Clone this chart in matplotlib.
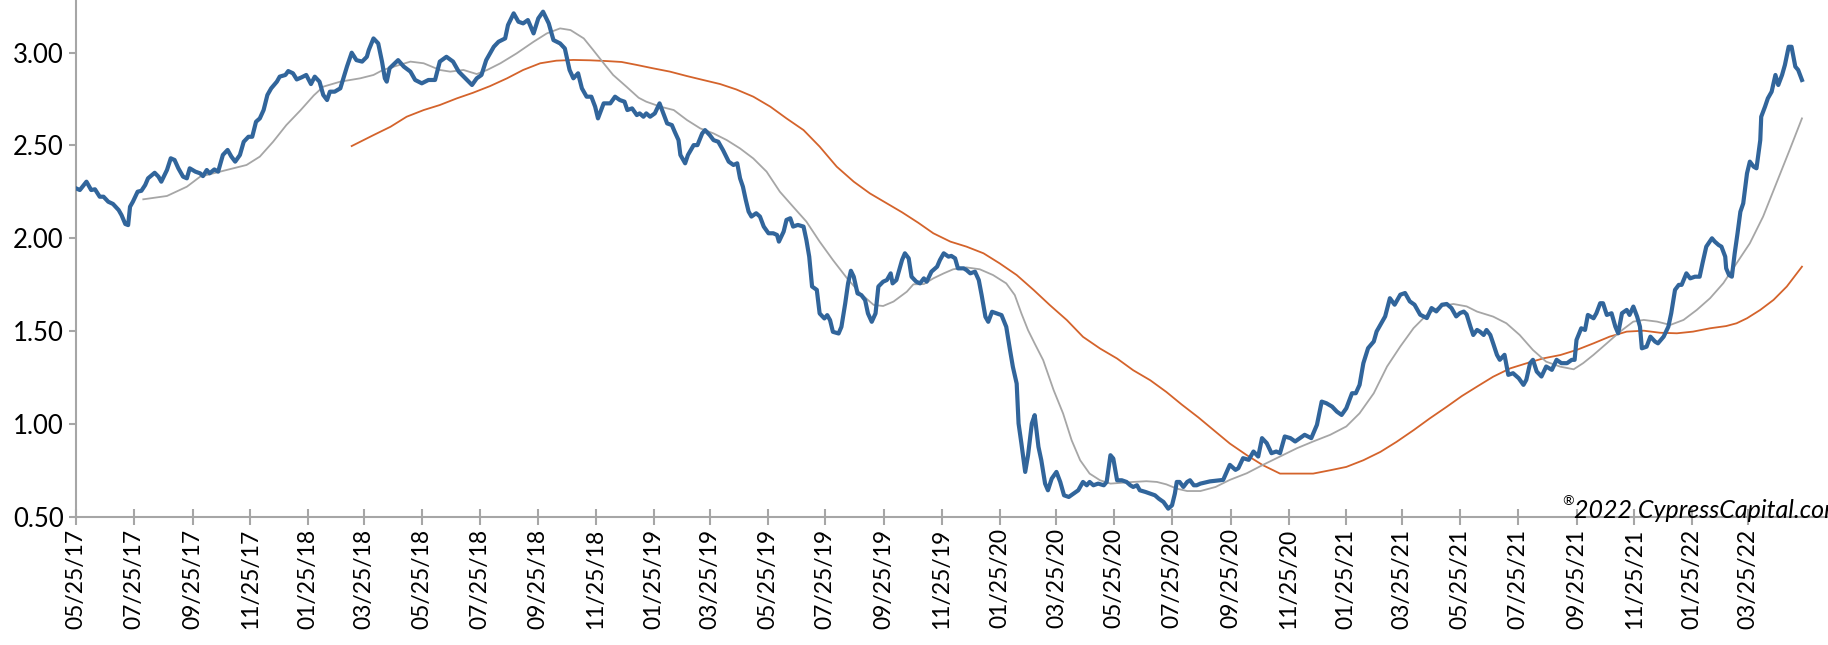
import matplotlib
matplotlib.use("Agg")
import matplotlib.pyplot as plt
import matplotlib.dates as mdates
import pandas as pd
import numpy as np

start_date = "2017-05-25"

# Yield (blue) : days after start_date, value
yield_days = [0,4,11,16,20,25,29,34,39,45,48,52,55,57,60,65,69,73,76,83,87,90,96,100,104,108,113,117,120,126,131,134,138,141,146,150,155,160,164,168,173,177,182,186,190,194,198,202,206,212,215,221,224,229,233,238,243,248,252,257,261,265,268,273,279,
              286,291,296,302,307,309,314,319,323,326,328,331,340,346,353,358,365,372,379,384,391,398,404,411,418,423,428,433,441,446,453,456,462,467,472,477,483,488,493,499,504,511,516,521,525,530,534,539,544,548,551,557,564,569,574,
              579,582,587,592,595,599,602,606,611,616,620,624,629,632,636,638,643,646,652,656,661,664,669,673,678,683,689,694,698,701,704,707,710,713,718,722,726,731,736,740,742,747,750,754,757,762,768,771,774,777,782,785,790,793,796,799,805,808,812,815,818,821,825,829,833,836,840,844,847,852,856,860,862,866,872,875,
              879,882,887,891,895,898,903,909,912,916,921,924,928,931,937,940,944,949,953,956,960,963,967,972,977,982,986,989,993,995,998,1002,1005,1009,1012,1016,1019,1023,1026,1030,1035,1039,1043,1048,1053,1058,1063,1067,1070,1074,1079,1085,1088,1092,1095,1099,1104,1109,1113,1116,1120,1123,1129,1134,1139,1143,1148,1153,1157,1160,1162,1165,1169,1173,1176,1180,1183,1187,
              1197,1211,1218,1224,1227,1232,1238,1243,1248,1252,1257,1262,1267,1271,1276,1282,1287,1292,1297,1304,1310,1315,1320,1326,1331,1336,1341,1347,1351,1355,1359,1364,1370,1373,1378,1382,1387,1392,1398,1403,1408,1413,1419,1426,1431,1436,1442,1447,1452,1457,1461,
              1465,1468,1472,1475,1479,1482,1486,1489,1493,1496,1500,1503,1508,1512,1517,1523,1528,1531,1535,1538,1542,1547,1552,1558,1563,1568,1574,1579,1582,1584,1589,1593,1596,1602,1605,1609,1612,1616,1621,1625,1628,1632,1637,1640,1644,1648,1651,1653,1658,1662,1667,1670,1676,1681,1684,1688,1692,1695,1700,1704,1709,1714,1717,1721,1727,1730,1734,1737,1741,1742,1745,1748,1751,1754,1757,1760,1764,1767,1771,1774,1778,1779,1783,1786,1790,1794,1797,1801,1804,1808,1811,1815,1818,1822]
yield_vals = [2.269,2.260,2.305,2.260,2.264,2.224,2.224,2.197,2.185,2.152,2.125,2.077,2.071,2.170,2.197,2.251,2.256,2.287,2.323,2.353,2.332,2.305,2.368,2.431,2.422,2.377,2.332,2.323,2.377,2.359,2.350,2.335,2.368,2.350,2.371,2.359,2.449,2.476,2.440,2.413,2.449,2.520,2.547,2.547,2.628,2.646,2.691,2.772,2.808,2.844,2.871,2.880,2.901,2.889,2.856,2.867,2.880,2.831,2.871,2.844,2.772,2.745,2.790,2.790,2.808,
              2.925,3.000,2.960,2.952,2.978,3.014,3.077,3.050,2.952,2.862,2.844,2.916,2.960,2.925,2.898,2.853,2.835,2.853,2.853,2.952,2.978,2.952,2.898,2.862,2.826,2.862,2.880,2.960,3.032,3.059,3.077,3.149,3.212,3.167,3.158,3.176,3.104,3.185,3.221,3.158,3.068,3.050,3.023,2.907,2.862,2.889,2.808,2.763,2.763,2.709,2.646,2.727,2.727,2.763,2.745,
              2.736,2.691,2.700,2.664,2.673,2.655,2.673,2.655,2.673,2.727,2.673,2.619,2.610,2.574,2.529,2.449,2.404,2.449,2.502,2.502,2.565,2.583,2.556,2.529,2.520,2.475,2.413,2.395,2.404,2.323,2.278,2.207,2.144,2.117,2.135,2.117,2.063,2.027,2.027,2.018,1.982,2.036,2.099,2.108,2.063,2.072,2.063,1.991,1.901,1.740,1.722,1.595,1.568,1.586,1.559,1.496,1.487,1.523,1.649,1.757,1.825,1.793,1.703,1.694,1.667,1.595,1.550,1.595,1.740,1.766,1.775,1.811,1.757,1.775,1.883,1.919,
              1.892,1.793,1.766,1.757,1.784,1.766,1.820,1.847,1.883,1.919,1.901,1.905,1.892,1.838,1.838,1.829,1.811,1.820,1.775,1.694,1.577,1.550,1.604,1.595,1.586,1.523,1.397,1.307,1.217,1.002,0.894,0.741,0.831,1.002,1.047,0.876,0.804,0.678,0.642,0.705,0.741,0.687,0.615,0.606,0.624,0.642,0.687,0.669,0.687,0.669,0.678,0.669,0.687,0.831,0.813,0.696,0.696,0.687,0.669,0.660,0.669,0.642,0.633,0.624,0.615,0.597,0.579,0.543,0.561,0.624,0.687,0.687,0.660,0.687,0.696,0.669,0.669,0.678,
              0.690,0.698,0.779,0.752,0.761,0.815,0.806,0.851,0.824,0.923,0.896,0.842,0.851,0.842,0.932,0.923,0.905,0.923,0.941,0.923,0.995,1.120,1.111,1.093,1.066,1.048,1.084,1.165,1.165,1.210,1.327,1.408,1.444,1.498,1.543,1.579,1.677,1.642,1.696,1.705,1.660,1.642,1.588,1.570,1.624,1.606,1.642,1.646,1.624,1.579,1.597,
              1.605,1.590,1.524,1.479,1.506,1.497,1.479,1.506,1.479,1.434,1.372,1.345,1.372,1.264,1.273,1.246,1.210,1.237,1.327,1.345,1.282,1.255,1.309,1.291,1.345,1.327,1.327,1.345,1.345,1.452,1.515,1.506,1.587,1.569,1.596,1.650,1.650,1.587,1.596,1.524,1.488,1.596,1.614,1.587,1.632,1.578,1.524,1.407,1.416,1.470,1.443,1.434,1.470,1.524,1.596,1.722,1.749,1.749,1.811,1.784,1.793,1.793,1.865,1.955,2.000,1.982,1.964,1.955,1.901,1.838,1.802,1.793,1.919,2.027,2.143,2.188,2.350,2.413,2.386,2.377,2.529,2.655,2.709,2.754,2.790,2.880,2.826,2.880,2.934,3.032,3.032,2.925,2.907,2.853]

# 50-day moving average (gray)
ma50_days = [71,96,117,131,152,180,194,208,222,237,251,261,279,300,314,324,339,353,367,384,395,409,423,434,448,465,483,497,511,522,536,546,557,567,581,594,
             602,617,631,645,659,673,687,701,715,729,743,757,771,785,799,814,828,842,852,863,877,884,895,905,916,926,940,954,968,982,991,998,1005,1012,1021,1032,1042,1051,1060,1070,1081,1092,1102,1116,1130,1141,1151,1162,1173,1187,1203,
             1218,1236,1253,1271,1289,1306,1324,1341,1355,1370,1384,1398,1412,1426,1440,1454,1468,1479,1496,1510,1524,1538,1552,1567,1581,1591,1602,1616,1630,1644,1655,1669,1683,1697,1711,1725,1739,1753,1767,1781,1795,1809,1822]
ma50_vals = [2.210,2.228,2.278,2.332,2.359,2.395,2.440,2.520,2.610,2.690,2.770,2.817,2.844,2.862,2.880,2.907,2.930,2.952,2.943,2.907,2.898,2.907,2.885,2.907,2.943,2.996,3.059,3.104,3.131,3.122,3.077,3.014,2.943,2.880,2.817,2.757,
             2.736,2.709,2.691,2.637,2.592,2.565,2.529,2.484,2.430,2.359,2.251,2.170,2.090,1.982,1.883,1.784,1.703,1.641,1.635,1.659,1.712,1.752,1.753,1.784,1.811,1.833,1.843,1.833,1.802,1.757,1.694,1.595,1.505,1.433,1.343,1.182,1.056,0.912,0.804,0.732,0.696,0.678,0.682,0.687,0.691,0.687,0.674,0.651,0.638,0.638,0.660,
             0.698,0.734,0.779,0.824,0.869,0.905,0.941,0.986,1.057,1.165,1.309,1.417,1.516,1.588,1.633,1.646,1.633,1.605,1.578,1.542,1.479,1.398,1.335,1.308,1.294,1.327,1.372,1.434,1.497,1.551,1.560,1.551,1.533,1.560,1.614,1.677,1.758,1.865,1.973,2.117,2.296,2.476,2.646]

# 200-day moving average (orange)
ma200_days = [291,314,332,349,367,384,402,419,437,455,472,490,507,525,543,560,576,592,609,627,645,662,680,697,715,733,750,768,785,803,821,838,856,872,889,905,923,940,958,975,993,1011,1028,1046,1063,1081,1099,1116,1134,1151,1167,1185,1201,1218,1236,1253,1271,1289,1306,1324,1341,1359,1377,1394,1412,1429,1447,1463,1480,1496,1514,1531,1549,1567,1584,1602,1619,1637,1655,1672,1690,1707,1725,1742,1753,1764,1778,1792,1806,1822]
ma200_vals = [2.497,2.556,2.601,2.655,2.691,2.718,2.754,2.784,2.820,2.862,2.907,2.943,2.957,2.961,2.959,2.955,2.950,2.934,2.916,2.898,2.874,2.853,2.831,2.802,2.763,2.709,2.646,2.583,2.494,2.386,2.305,2.242,2.188,2.140,2.084,2.027,1.982,1.955,1.919,1.865,1.802,1.721,1.640,1.559,1.469,1.406,1.352,1.289,1.235,1.172,1.105,1.034,0.966,0.894,0.831,0.777,0.732,0.732,0.732,0.750,0.768,0.804,0.849,0.903,0.966,1.029,1.092,1.150,1.204,1.254,1.299,1.326,1.353,1.371,1.398,1.434,1.470,1.497,1.502,1.491,1.488,1.497,1.515,1.527,1.542,1.569,1.614,1.668,1.740,1.847]

tick_dates = pd.date_range("2017-05-01", "2022-03-01", freq="2MS") + pd.Timedelta(days=24)
y_ticks = [0.50, 1.00, 1.50, 2.00, 2.50, 3.00]
watermark = "2022 CypressCapital.com"

base = pd.Timestamp(start_date)
def to_dates(days):
    return base + pd.to_timedelta(days, unit="D")

BLUE = "#31659B"
GRAY = "#A6A6A6"
ORANGE = "#D4632B"
AXIS = "#A6A6A6"

plt.rcParams["font.family"] = ["Lato", "DejaVu Sans"]

fig = plt.figure(figsize=(18.28, 6.45), dpi=100)
ax = fig.add_axes([0.0416, 0.199, 0.9584, 0.801])

ax.plot(to_dates(ma200_days), ma200_vals, color=ORANGE, lw=1.3, zorder=2)
ax.plot(to_dates(ma50_days), ma50_vals, color=GRAY, lw=1.3, zorder=3)
ax.plot(to_dates(yield_days), yield_vals, color=BLUE, lw=3.0, zorder=4, solid_joinstyle="round")

ax.set_xlim(base, base + pd.Timedelta(days=1849.5))
ax.set_ylim(0.5, 3.284)

ax.set_xticks(tick_dates)
ax.xaxis.set_major_formatter(mdates.DateFormatter("%m/%d/%y"))
ax.set_yticks(y_ticks)
ax.set_yticklabels([f"{v:.2f}" for v in y_ticks])

for s in ["top", "right"]:
    ax.spines[s].set_visible(False)
for s in ["left", "bottom"]:
    ax.spines[s].set_color(AXIS)
    ax.spines[s].set_linewidth(1.5)

ax.tick_params(axis="x", direction="inout", length=11, width=1.5, color=AXIS,
               labelsize=16.5, labelrotation=90, pad=3, labelcolor="black")
ax.tick_params(axis="y", direction="out", length=5, width=1.5, color=AXIS,
               labelsize=18.5, pad=4, labelcolor="black")

fig.text(1574/1828, 1 - 518/645, watermark, fontsize=18, style="italic",
         ha="left", va="baseline", color="black")
fig.text(1562/1828, 1 - 505/645, "\u00ae", fontsize=10, style="italic",
         ha="left", va="baseline", color="black")

fig.savefig("out.png", dpi=100)
